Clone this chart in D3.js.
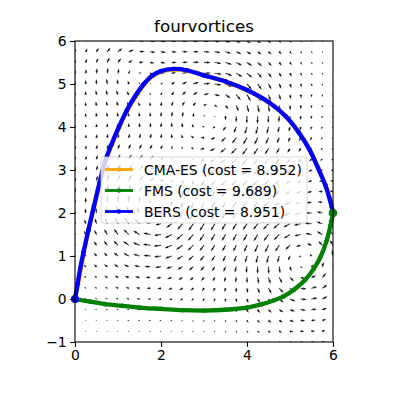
<!DOCTYPE html>
<html><head><meta charset="utf-8">
<script src="https://cdn.jsdelivr.net/npm/d3@7"></script>
<style>body{margin:0;background:#fff}svg{display:block}</style>
</head><body><div id="chart"></div>
<script>
// ---- data ----
const chartTitle = "fourvortices";
const xTicks = [0, 2, 4, 6];
const yTicks = [-1, 0, 1, 2, 3, 4, 5, 6];
const seriesNames = ["CMA-ES", "FMS", "BERS"];
const seriesCosts = ["8.952", "9.689", "8.951"];
const seriesColors = ["orange", "green", "blue"];

const cmaX = [0, 0.07, 0.13, 0.21, 0.31, 0.44, 0.57, 0.71, 0.86, 1.03, 1.21, 1.41, 1.61, 1.81, 2.01, 2.31, 2.61, 3.01, 3.51, 4.01, 4.51, 4.91, 5.21, 5.46, 5.66, 5.83, 5.94, 6.0];
const cmaY = [0, 0.35, 0.7, 1.1, 1.6, 2.15, 2.7, 3.2, 3.6, 4.0, 4.37, 4.71, 4.99, 5.19, 5.29, 5.34, 5.31, 5.2, 5.05, 4.85, 4.57, 4.24, 3.87, 3.47, 3.04, 2.64, 2.29, 2.0];
const fmsX = [0, 0.35, 0.7, 1.1, 1.5, 2.0, 2.5, 3.0, 3.5, 4.0, 4.35, 4.6, 4.85, 5.1, 5.35, 5.55, 5.72, 5.85, 5.94, 6.0];
const fmsY = [0, -0.06, -0.12, -0.16, -0.2, -0.23, -0.26, -0.27, -0.25, -0.2, -0.12, -0.04, 0.06, 0.22, 0.44, 0.7, 1.0, 1.35, 1.7, 2.0];
const bersX = [0, 0.06, 0.12, 0.2, 0.31, 0.44, 0.57, 0.7, 0.85, 1.02, 1.2, 1.4, 1.6, 1.8, 2.0, 2.3, 2.6, 3.0, 3.5, 4.0, 4.5, 4.9, 5.2, 5.45, 5.65, 5.82, 5.93, 6.0];
const bersY = [0, 0.35, 0.7, 1.1, 1.6, 2.15, 2.7, 3.2, 3.6, 4.0, 4.38, 4.72, 5.0, 5.2, 5.3, 5.35, 5.32, 5.2, 5.06, 4.86, 4.58, 4.25, 3.88, 3.48, 3.05, 2.65, 2.3, 2.0];

// vortex field parameters (centre, circulation, core radius)
const vortexX = [1.9, 3.3, 5.3, 1.3];
const vortexY = [2.1, 4.3, 0.9, 5.3];
const vortexK = [-2.0, -2.2, 1.6, -0.7];
const vortexCore = [0.9, 1.0, 0.8, 0.6];
const vortexReach = 2.6;
const gridX = d3.range(0, 6.0001, 0.25);
const gridY = d3.range(-1, 6.0001, 0.25);

// ---- drawing ----
const W = 400, H = 400;
const svg = d3.select("#chart").append("svg").attr("width", W).attr("height", H)
  .style("font-family", "DejaVu Sans, sans-serif");
const x = d3.scaleLinear().domain([0, 6]).range([75, 333]);
const y = d3.scaleLinear().domain([-1, 6]).range([342, 41]);

svg.append("defs").append("clipPath").attr("id", "clip")
  .append("rect").attr("x", 75).attr("y", 41).attr("width", 258).attr("height", 301);

function field(px, py) {
  let u = 0, v = 0;
  for (let i = 0; i < vortexX.length; i++) {
    const dx = px - vortexX[i], dy = py - vortexY[i];
    const r2 = dx * dx + dy * dy;
    if (r2 < 1e-9) continue;
    const f = vortexK[i] / (2 * Math.PI) * (1 - Math.exp(-r2 / (vortexCore[i] * vortexCore[i]))) / r2
      * Math.exp(-r2 / (vortexReach * vortexReach));
    u += -dy * f; v += dx * f;
  }
  return [u, v];
}

const arrows = [];
gridY.forEach(gy => gridX.forEach(gx => {
  const [u, v] = field(gx, gy);
  arrows.push({gx, gy, u, v, s: Math.hypot(u, v)});
}));
const meanSpeed = d3.mean(arrows, d => d.s);
const S = 4.3 / meanSpeed;
const sw = 0.65, hl = 5 * sw, hal = 4.5 * sw, hw = 3 * sw;

const qg = svg.append("g").attr("clip-path", "url(#clip)");
arrows.forEach(a => {
  const L = a.s * S;
  const ang = Math.atan2(-a.v, a.u) * 180 / Math.PI;
  let pts;
  if (L < 0.9) {
    qg.append("circle").attr("cx", x(a.gx)).attr("cy", y(a.gy)).attr("r", 0.45).attr("fill", "#000");
    return;
  }
  if (L >= hl) {
    pts = [[0, -sw / 2], [L - hal, -sw / 2], [L - hl, -hw / 2], [L, 0], [L - hl, hw / 2], [L - hal, sw / 2], [0, sw / 2]];
  } else {
    const k = L / hl;
    pts = [[0, -sw / 2 * k], [L - hal * k, -sw / 2 * k], [0, -hw / 2 * k], [L, 0], [0, hw / 2 * k], [L - hal * k, sw / 2 * k], [0, sw / 2 * k]];
  }
  qg.append("polygon")
    .attr("points", pts.map(p => p.join(",")).join(" "))
    .attr("transform", `translate(${x(a.gx)},${y(a.gy)}) rotate(${ang})`)
    .attr("fill", "#000").attr("stroke", "#000").attr("stroke-width", 0.2);
});

// paths
const seriesX = [cmaX, fmsX, bersX];
const seriesY = [cmaY, fmsY, bersY];
const line = d3.line().x(d => x(d[0])).y(d => y(d[1])).curve(d3.curveCatmullRom);
const pg = svg.append("g");
seriesNames.forEach((n, i) => {
  const pts = seriesX[i].map((v, j) => [v, seriesY[i][j]]);
  pg.append("path").datum(pts).attr("d", line)
    .attr("fill", "none").attr("stroke", seriesColors[i]).attr("stroke-width", 4.3)
    .attr("stroke-linejoin", "round").attr("stroke-linecap", "round");
  pg.selectAll(null).data(pts).enter().append("circle")
    .attr("cx", d => x(d[0])).attr("cy", d => y(d[1])).attr("r", 2.3).attr("fill", seriesColors[i]);
});
// start / end markers
pg.append("circle").attr("cx", x(bersX[0])).attr("cy", y(bersY[0])).attr("r", 4).attr("fill", "blue");
pg.append("circle").attr("cx", x(fmsX[fmsX.length - 1])).attr("cy", y(fmsY[fmsY.length - 1])).attr("r", 4.3).attr("fill", "green");

// axes
const xAxis = d3.axisBottom(x).tickValues(xTicks).tickSize(4.9).tickPadding(3.5).tickFormat(d3.format("d"));
const yAxis = d3.axisLeft(y).tickValues(yTicks).tickSize(4.9).tickPadding(3.5).tickFormat(d => d < 0 ? "\u2212" + Math.abs(d) : d);
const gx = svg.append("g").attr("transform", "translate(0,342)").call(xAxis);
const gy = svg.append("g").attr("transform", "translate(75,0)").call(yAxis);
[gx, gy].forEach(g => {
  g.select(".domain").remove();
  g.selectAll("line").attr("stroke", "#000").attr("stroke-width", 1.1);
  g.selectAll("text").attr("font-size", 13.9).attr("fill", "#000").attr("font-family", "DejaVu Sans, sans-serif");
});
svg.append("rect").attr("x", 75).attr("y", 41).attr("width", 258).attr("height", 301)
  .attr("fill", "none").attr("stroke", "#000").attr("stroke-width", 1.1);

// title
svg.append("text").attr("x", 204).attr("y", 32).attr("text-anchor", "middle")
  .attr("font-size", 16.7).attr("fill", "#000").text(chartTitle);

// legend
const lg = svg.append("g");
lg.append("rect").attr("x", 101).attr("y", 157).attr("width", 206).attr("height", 66).attr("rx", 2.8)
  .attr("fill", "#fff").attr("fill-opacity", 0.8).attr("stroke", "#ccc").attr("stroke-opacity", 0.8).attr("stroke-width", 1);
const rowY = [169.5, 190.5, 211.5];
seriesNames.forEach((n, i) => {
  lg.append("line").attr("x1", 105).attr("x2", 133).attr("y1", rowY[i]).attr("y2", rowY[i])
    .attr("stroke", seriesColors[i]).attr("stroke-width", 2.8);
  lg.append("circle").attr("cx", 119).attr("cy", rowY[i]).attr("r", 2.2).attr("fill", seriesColors[i]);
  lg.append("text").attr("x", 144).attr("y", rowY[i]).attr("dy", "0.36em")
    .attr("font-size", 13.9).attr("fill", "#000").text(`${n} (cost = ${seriesCosts[i]})`);
});
</script></body></html>
